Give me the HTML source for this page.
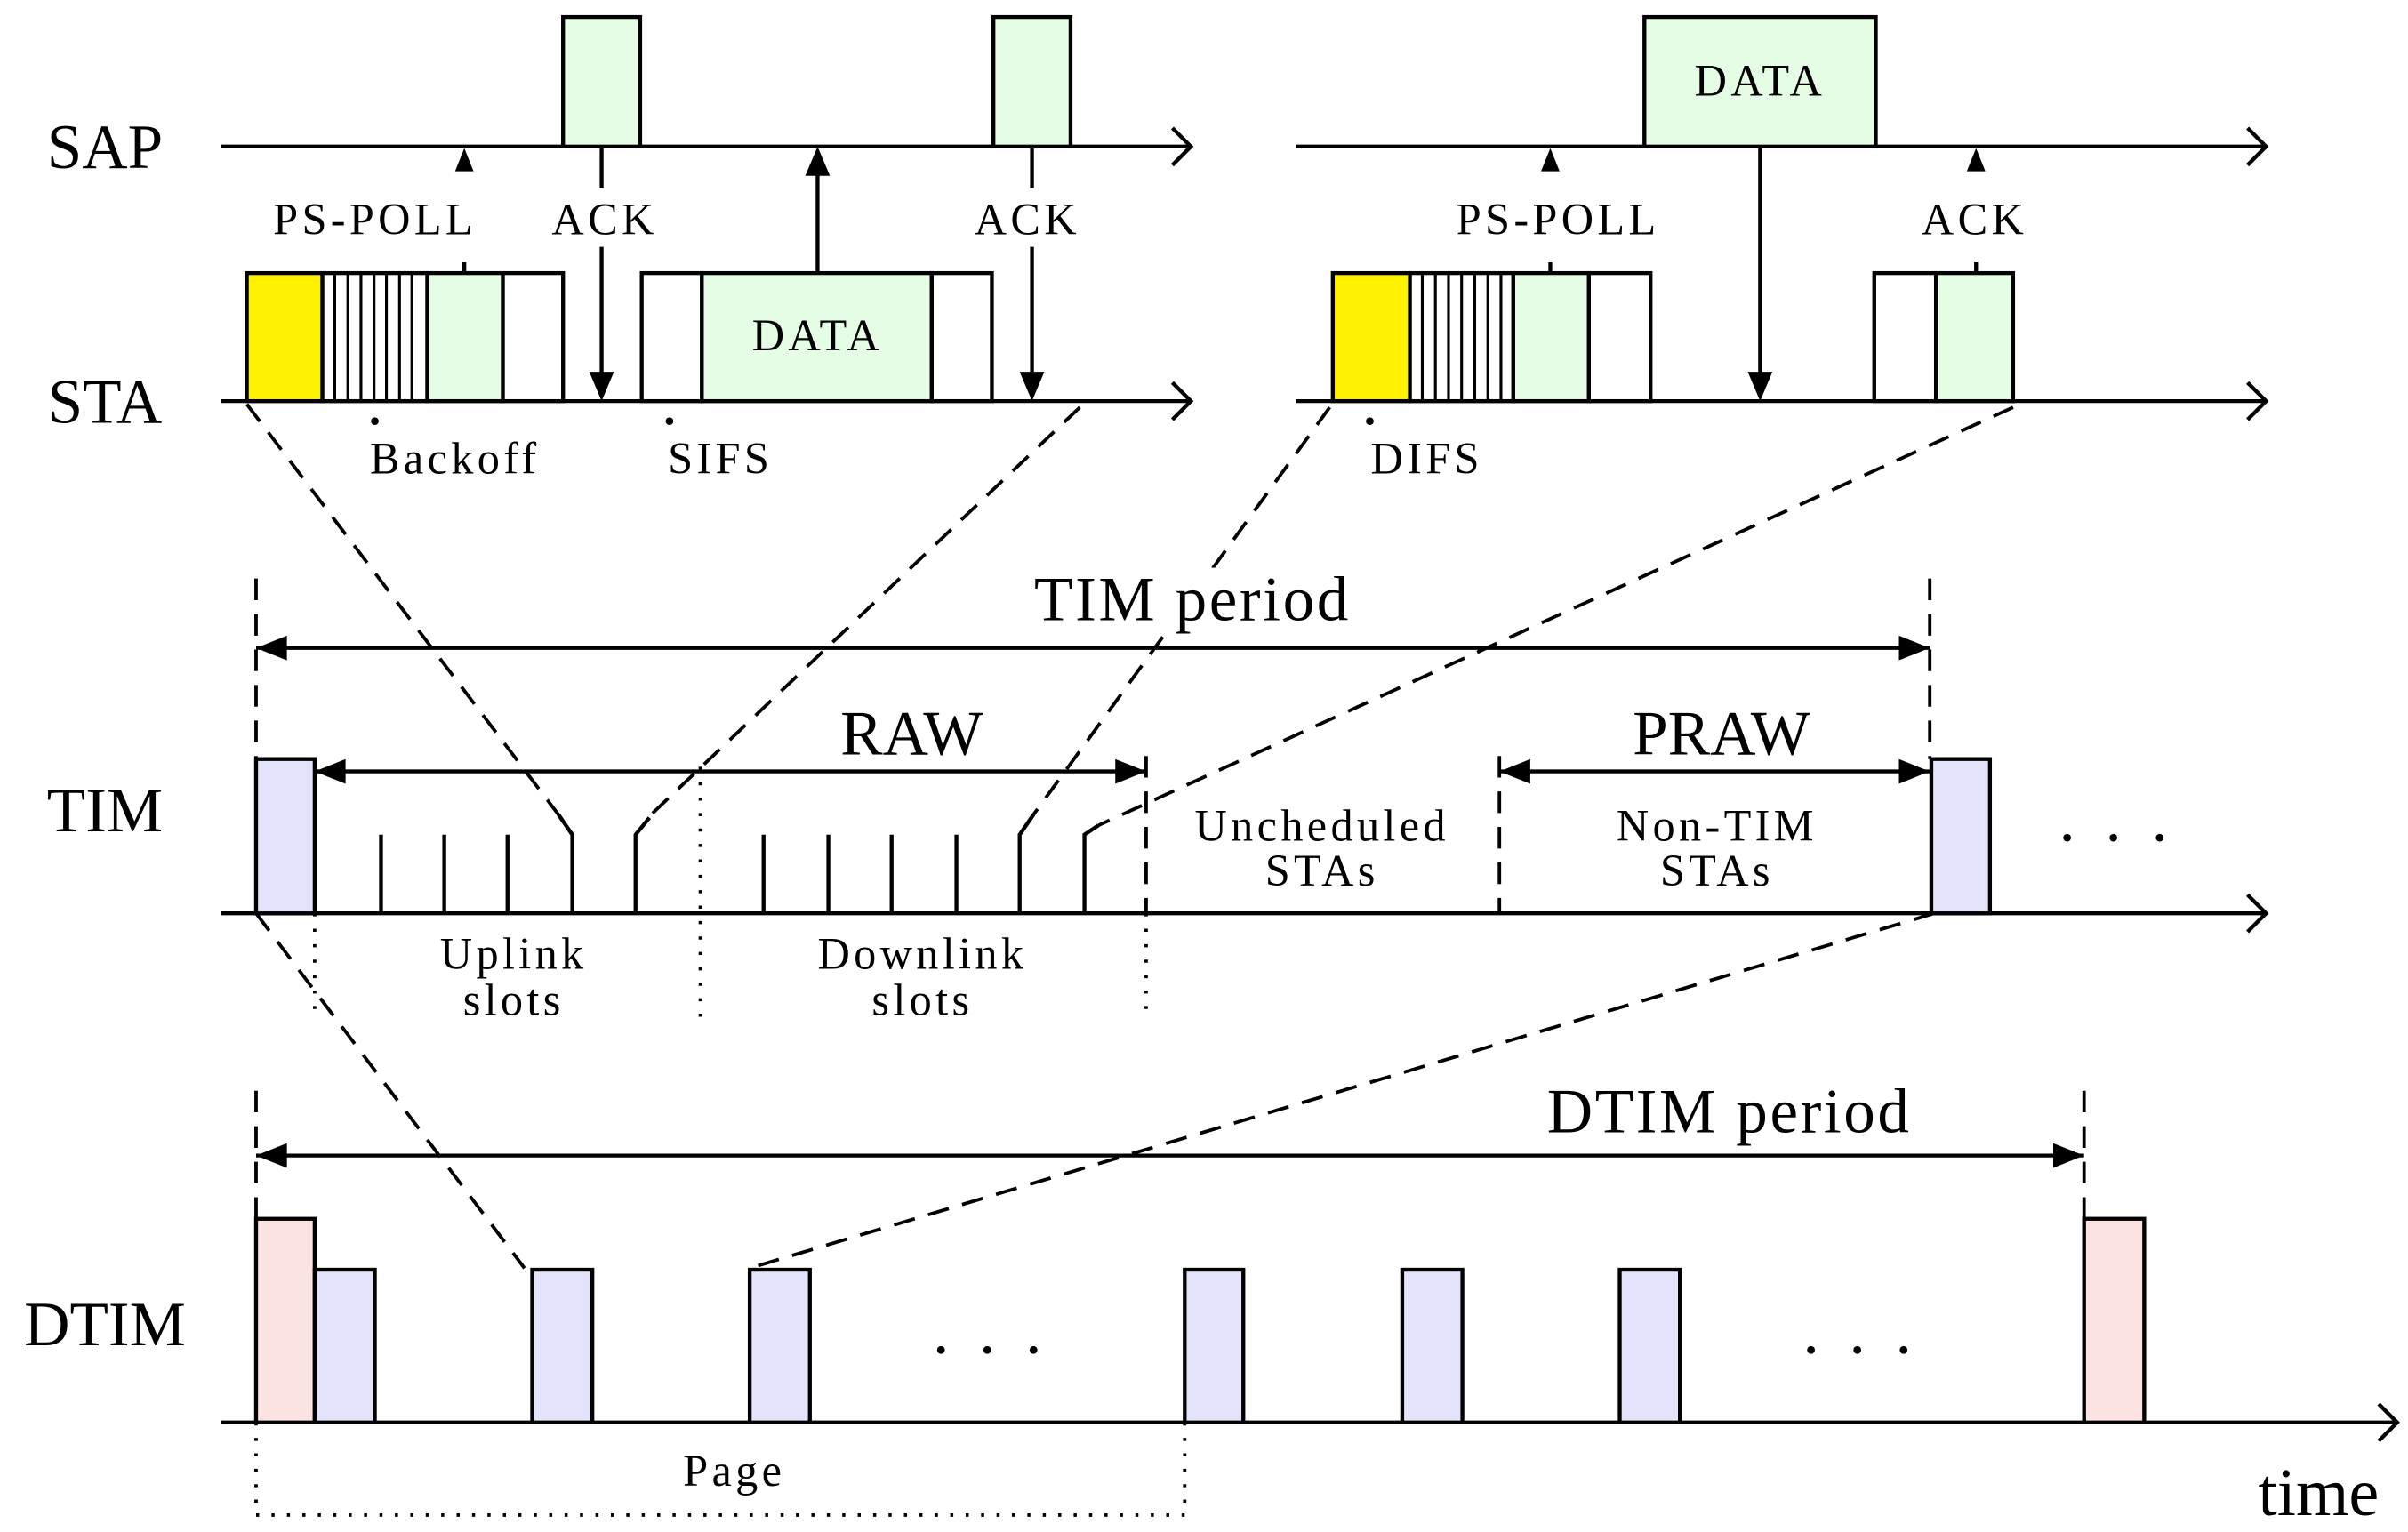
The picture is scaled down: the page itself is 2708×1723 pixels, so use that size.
<!DOCTYPE html>
<html><head><meta charset="utf-8"><style>html,body{margin:0;padding:0;background:#fff}svg{display:block}</style></head><body>
<svg width="2708" height="1723" viewBox="0 0 1561 993" preserveAspectRatio="none" xmlns="http://www.w3.org/2000/svg" font-family="'Liberation Serif', serif">
<g stroke="#000" stroke-width="2.5" fill="none">
<path d="M143,95H772M760,83L772,95L760,107"/>
<path d="M840,95H1469M1457,83L1469,95L1457,107"/>
<path d="M143,260H772M760,248L772,260L760,272"/>
<path d="M840,260H1469M1457,248L1469,260L1457,272"/>
<path d="M143,592H1469M1457,580L1469,592L1457,604"/>
<path d="M143,922H1554M1542,910L1554,922L1542,934"/>
</g>
<g stroke="#000" stroke-width="2.5">
<rect x="365" y="11" width="50" height="84" fill="#e4fde4"/>
<rect x="644" y="11" width="50" height="84" fill="#e4fde4"/>
<rect x="1066" y="11" width="150" height="84" fill="#e4fde4"/>
<rect x="160" y="177" width="49" height="83" fill="#fff200"/>
<rect x="209" y="177" width="68" height="83" fill="#fff"/>
<rect x="277" y="177" width="49" height="83" fill="#e4fde4"/>
<rect x="326" y="177" width="39" height="83" fill="#fff"/>
<rect x="416" y="177" width="39" height="83" fill="#fff"/>
<rect x="455" y="177" width="149" height="83" fill="#e4fde4"/>
<rect x="604" y="177" width="39" height="83" fill="#fff"/>
<rect x="864" y="177" width="50" height="83" fill="#fff200"/>
<rect x="914" y="177" width="67" height="83" fill="#fff"/>
<rect x="981" y="177" width="49" height="83" fill="#e4fde4"/>
<rect x="1030" y="177" width="40" height="83" fill="#fff"/>
<rect x="1215" y="177" width="40" height="83" fill="#fff"/>
<rect x="1255" y="177" width="50" height="83" fill="#e4fde4"/>
</g>
<g stroke="#000" stroke-width="1.8">
<path d="M217,177V260M225.5,177V260M234,177V260M242.5,177V260M250.5,177V260M259,177V260M267,177V260"/>
<path d="M922,177V260M930.5,177V260M939,177V260M947.5,177V260M956,177V260M964.5,177V260M973,177V260"/>
</g>
<g stroke="#000" stroke-width="2.5" fill="none">
<path d="M301,170V177M1005,170V177M1281,170V177"/>
<path d="M390,95V122M390,160V245M669,95V122M669,160V245"/>
<path d="M530,177V110"/>
<path d="M1141,95V245"/>
</g>
<g fill="#000">
<path d="M295,111L301,96L307,111Z"/><path d="M999,111L1005,96L1011,111Z"/><path d="M1275,111L1281,96L1287,111Z"/>
<path d="M522,114L530,95L538,114Z"/>
<path d="M382,241L390,260L398,241Z"/><path d="M661,241L669,260L677,241Z"/><path d="M1133,241L1141,260L1149,241Z"/>
<circle cx="243" cy="273" r="2.5"/><circle cx="434" cy="273" r="2.5"/><circle cx="888" cy="273" r="2.5"/>
</g>
<!-- dashed zoom lines -->
<g stroke="#000" stroke-width="2.2" fill="none" stroke-dasharray="14,9">
<path d="M160,262L362,528"/><path d="M700,264L420,530"/><path d="M862,264L670,528"/><path d="M1305,264L712,535"/>
<path d="M166,375V492M1251,375V492M743,490V592M972,490V592"/>
<path d="M166,592L340,822"/><path d="M1254,592L486,822"/>
<path d="M166,707V790M1351,707V790"/>
</g>
<rect x="652" y="368" width="242" height="40" fill="#fff"/>
<rect x="982" y="700" width="278" height="40" fill="#fff"/>
<g font-size="29" letter-spacing="2.5" text-anchor="middle" fill="#000">
<text x="243" y="152">PS-POLL</text><text x="392" y="152">ACK</text><text x="666" y="152">ACK</text>
<text x="1010" y="152">PS-POLL</text><text x="1280" y="152">ACK</text>
<text x="530" y="227">DATA</text><text x="1141" y="62">DATA</text>
<text x="295" y="307">Backoff</text><text x="467" y="307">SIFS</text><text x="925" y="307">DIFS</text>
<text x="333" y="628">Uplink</text><text x="333" y="658">slots</text>
<text x="598" y="628">Downlink</text><text x="598" y="658">slots</text>
<text x="857" y="545">Uncheduled</text><text x="857" y="574">STAs</text>
<text x="1113" y="545">Non-TIM</text><text x="1113" y="574">STAs</text>
<text x="476" y="963">Page</text>
</g>
<g font-size="41" fill="#000" text-anchor="middle">
<text x="68" y="109">SAP</text><text x="68" y="274">STA</text><text x="68" y="539">TIM</text><text x="68" y="872">DTIM</text>
<text x="773" y="402" letter-spacing="1.5">TIM period</text>
<text x="591" y="489">RAW</text><text x="1116" y="489">PRAW</text>
<text x="1121" y="734" letter-spacing="1.5">DTIM period</text>
<text x="1503" y="982" font-size="44">time</text>
</g>
<g stroke="#000" stroke-width="2.5" fill="none">
<path d="M247,541V592M288,541V592M329,541V592M495,541V592M537,541V592M578,541V592M620,541V592"/>
<path d="M362,528L371,541V592M421,530L412,541V592M670,528L661,541V592M712,535L703,541V592"/>
<path d="M166,420H1251"/>
<path d="M204,500H743"/>
<path d="M972,500H1251"/>
<path d="M166,749H1351"/>
</g>
<g fill="#000">
<path d="M166,420L186,412L186,428Z"/><path d="M1251,420L1231,412L1231,428Z"/>
<path d="M204,500L224,492L224,508Z"/><path d="M743,500L723,492L723,508Z"/>
<path d="M972,500L992,492L992,508Z"/><path d="M1251,500L1231,492L1231,508Z"/>
<path d="M166,749L186,741L186,757Z"/><path d="M1351,749L1331,741L1331,757Z"/>
<circle cx="1340" cy="543" r="2.5"/><circle cx="1370" cy="543" r="2.5"/><circle cx="1400" cy="543" r="2.5"/>
<circle cx="610" cy="875" r="2.5"/><circle cx="640" cy="875" r="2.5"/><circle cx="670" cy="875" r="2.5"/>
<circle cx="1174" cy="875" r="2.5"/><circle cx="1204" cy="875" r="2.5"/><circle cx="1234" cy="875" r="2.5"/>
</g>
<g stroke="#000" stroke-width="2.2" fill="none" stroke-dasharray="2,8">
<path d="M204,592V660M454,497V660M743,592V660"/>
<path d="M166,922V982H768V922"/>
</g>
<g stroke="#000" stroke-width="2.5">
<rect x="166" y="492" width="38" height="100" fill="#e3e4fb"/>
<rect x="1252" y="492" width="38" height="100" fill="#e3e4fb"/>
<rect x="166" y="790" width="38" height="132" fill="#fde2e2"/>
<rect x="204" y="823" width="39" height="99" fill="#e3e4fb"/>
<rect x="345" y="823" width="39" height="99" fill="#e3e4fb"/>
<rect x="486" y="823" width="39" height="99" fill="#e3e4fb"/>
<rect x="768" y="823" width="38" height="99" fill="#e3e4fb"/>
<rect x="909" y="823" width="39" height="99" fill="#e3e4fb"/>
<rect x="1050" y="823" width="39" height="99" fill="#e3e4fb"/>
<rect x="1351" y="790" width="39" height="132" fill="#fde2e2"/>
</g>
</svg>
</body></html>
